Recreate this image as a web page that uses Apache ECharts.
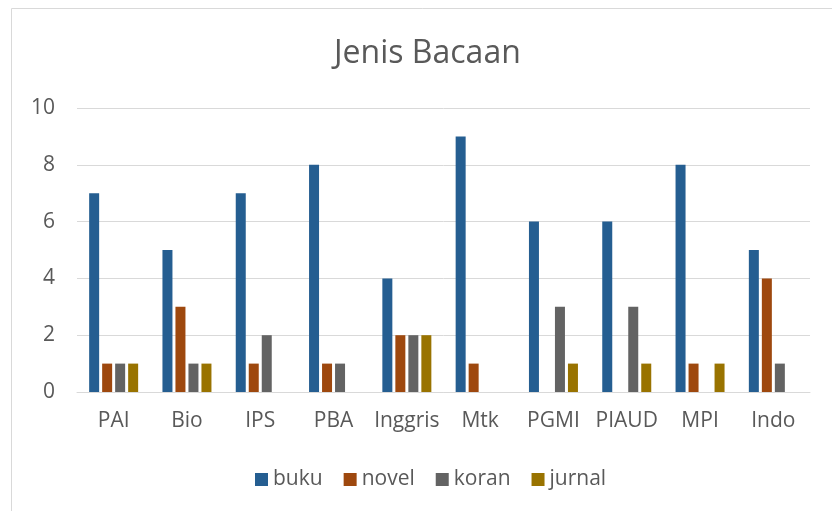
<!DOCTYPE html>
<html>
<head>
<meta charset="utf-8">
<script src="https://cdn.jsdelivr.net/npm/echarts@6/dist/echarts.min.js"></script>
<style>
  html, body { margin: 0; padding: 0; background: #fff; }
  #chart { width: 832px; height: 511px; }
</style>
</head>
<body>
<div id="chart"></div>
<script>
const categories = ['PAI', 'Bio', 'IPS', 'PBA', 'Inggris', 'Mtk', 'PGMI', 'PIAUD', 'MPI', 'Indo'];
const buku = [7, 5, 7, 8, 4, 9, 6, 6, 8, 5];
const novel = [1, 3, 1, 1, 2, 1, 0, 0, 1, 4];
const koran = [1, 1, 2, 1, 2, 0, 3, 3, 0, 1];
const jurnal = [1, 1, 0, 0, 2, 0, 1, 1, 1, 0];
const yTicks = [0, 2, 4, 6, 8, 10];

const font = '"Open Sans", "Noto Sans", sans-serif';
const textColor = '#595959';

const chart = echarts.init(document.getElementById('chart'));

function bar(name, data, color) {
  return {
    name: name,
    type: 'bar',
    data: data,
    barWidth: 10,
    barGap: '30%',
    itemStyle: { color: color },
    emphasis: { disabled: true }
  };
}

chart.setOption({
  animation: false,
  title: {
    text: 'Jenis Bacaan',
    left: 329,
    top: 33,
    textStyle: { fontFamily: font, fontSize: 32, fontWeight: 'normal', color: textColor }
  },
  graphic: [{
    type: 'rect',
    shape: { x: 11.5, y: 8.5, width: 900, height: 600 },
    style: { fill: 'none', stroke: '#d9d9d9', lineWidth: 1 },
    silent: true
  }],
  legend: {
    bottom: 16,
    left: 250,
    itemWidth: 13,
    itemHeight: 13,
    itemGap: 21,
    icon: 'rect',
    textStyle: { fontFamily: font, fontSize: 21, color: textColor },
    data: ['buku', 'novel', 'koran', 'jurnal']
  },
  grid: { left: 77, right: 22, top: 108, bottom: 119, containLabel: false },
  xAxis: {
    type: 'category',
    data: categories,
    axisLine: { lineStyle: { color: '#d9d9d9' } },
    axisTick: { show: false },
    axisLabel: { fontFamily: font, fontSize: 21, color: textColor, margin: 19, interval: 0 }
  },
  yAxis: {
    type: 'value',
    min: yTicks[0],
    max: yTicks[yTicks.length - 1],
    interval: 2,
    axisLine: { show: false },
    axisTick: { show: false },
    splitLine: { lineStyle: { color: '#d9d9d9', width: 1 } },
    axisLabel: { fontFamily: font, fontSize: 21, color: textColor, margin: 22 }
  },
  series: [
    bar('buku', buku, '#255e91'),
    bar('novel', novel, '#9e480e'),
    bar('koran', koran, '#636363'),
    bar('jurnal', jurnal, '#997300')
  ]
});
</script>
</body>
</html>
